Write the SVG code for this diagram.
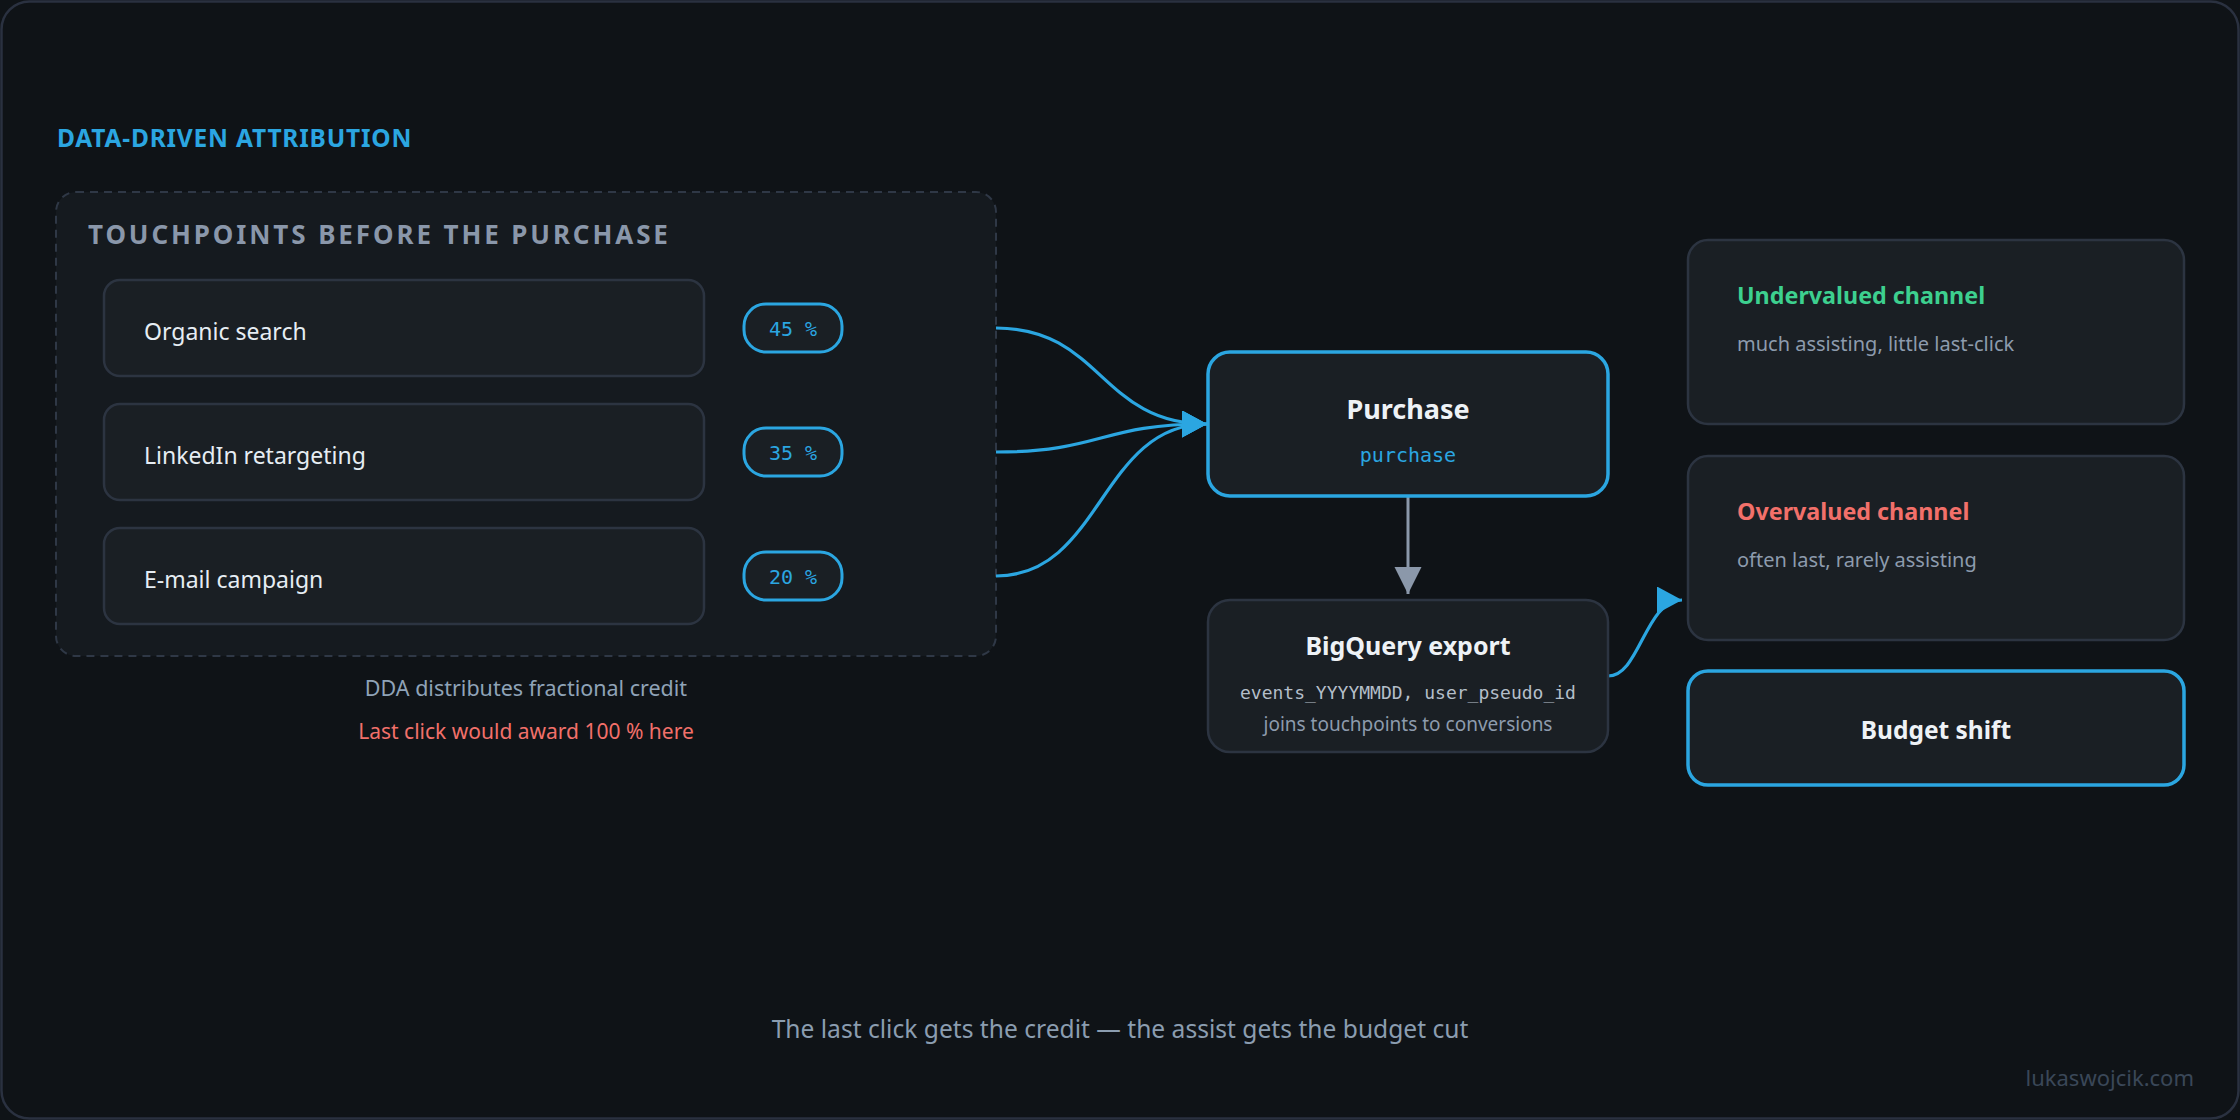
<svg xmlns="http://www.w3.org/2000/svg" width="2240" height="1120" viewBox="0 0 2240 1120">
<style>
.sans{font-family:"Noto Sans","Open Sans","DejaVu Sans",sans-serif}
.mono{font-family:"DejaVu Sans Mono","Liberation Mono",monospace}
.node{fill:#1a1f24;stroke:#2c3441;stroke-width:2.5}
.hot{fill:#1a1f24;stroke:#2ba6e1;stroke-width:3.5}
.pill{fill:#1a1f24;stroke:#2ba6e1;stroke-width:3}
.label{font-size:23px;fill:#e6edf3}
.pct{font-size:20px;fill:#2ba6e1;text-anchor:middle}
.ttl{font-weight:700;fill:#eef2f6;text-anchor:middle}
.sub{font-size:20px;fill:#8d9bad}
.flow{fill:none;stroke:#2ba6e1;stroke-width:3.2}
</style>
<defs>
<marker id="ab" markerUnits="userSpaceOnUse" viewBox="0 0 26 28" markerWidth="26" markerHeight="28" refX="25" refY="13.5" orient="auto">
<path d="M0,0 L25,13.5 L0,27 z" fill="#2ba6e1"/>
</marker>
<marker id="ag" markerUnits="userSpaceOnUse" viewBox="0 0 28 28" markerWidth="28" markerHeight="28" refX="27" refY="13.5" orient="auto">
<path d="M0,0 L27,13.5 L0,27 z" fill="#8b98aa"/>
</marker>
</defs>
<rect x="0" y="0" width="2240" height="1120" fill="#0f1317"/>
<rect x="1.5" y="1.5" width="2237" height="1117" rx="28" fill="#0f1317" stroke="#2a3140" stroke-width="2.5"/>

<text class="sans" x="57" y="147" font-size="24.5" font-weight="700" fill="#2ba6e1" letter-spacing="0.8">DATA-DRIVEN ATTRIBUTION</text>

<g id="touchpoints">
<rect x="56" y="192" width="940" height="464" rx="20" fill="#151a1f" stroke="#2f3846" stroke-width="2" stroke-dasharray="8 6"/>
<text class="sans" x="88" y="244" font-size="26" font-weight="700" fill="#8a97aa" letter-spacing="2.9">TOUCHPOINTS BEFORE THE PURCHASE</text>
</g>

<g id="node-organic">
<rect class="node" x="104" y="280" width="600" height="96" rx="16"/>
<text class="sans label" x="144" y="340">Organic search</text>
</g>
<g id="pill-45">
<rect class="pill" x="744" y="304" width="98" height="48" rx="22"/>
<text class="mono pct" x="793" y="336">45 %</text>
</g>
<g id="node-linkedin">
<rect class="node" x="104" y="404" width="600" height="96" rx="16"/>
<text class="sans label" x="144" y="464">LinkedIn retargeting</text>
</g>
<g id="pill-35">
<rect class="pill" x="744" y="428" width="98" height="48" rx="22"/>
<text class="mono pct" x="793" y="460">35 %</text>
</g>
<g id="node-email">
<rect class="node" x="104" y="528" width="600" height="96" rx="16"/>
<text class="sans label" x="144" y="588">E-mail campaign</text>
</g>
<g id="pill-20">
<rect class="pill" x="744" y="552" width="98" height="48" rx="22"/>
<text class="mono pct" x="793" y="584">20 %</text>
</g>

<text class="sans" x="526" y="696" font-size="21.5" fill="#8fa3b8" text-anchor="middle">DDA distributes fractional credit</text>
<text class="sans" x="526" y="739" font-size="21" fill="#f2706a" text-anchor="middle">Last click would award 100 % here</text>

<g id="connectors">
<path class="flow" d="M996,328 C1102,328 1100,424 1207,424" marker-end="url(#ab)"/>
<path class="flow" d="M996,452 C1102,452 1100,424 1207,424" marker-end="url(#ab)"/>
<path class="flow" d="M996,576 C1102,576 1100,424 1207,424" marker-end="url(#ab)"/>
<path d="M1408,497 L1408,594" fill="none" stroke="#8b98aa" stroke-width="3" marker-end="url(#ag)"/>
<path class="flow" d="M1608,676 C1640,676 1645,600 1682,600" marker-end="url(#ab)"/>
</g>

<g id="node-purchase">
<rect class="hot" x="1208" y="352" width="400" height="144" rx="22"/>
<text class="sans ttl" x="1408" y="419" font-size="27">Purchase</text>
<text class="mono" x="1408" y="462" font-size="20" fill="#2ba6e1" text-anchor="middle">purchase</text>
</g>

<g id="node-bigquery">
<rect class="node" x="1208" y="600" width="400" height="152" rx="22"/>
<text class="sans ttl" x="1408" y="655" font-size="25">BigQuery export</text>
<text class="mono" x="1408" y="699" font-size="18" fill="#b4bec9" text-anchor="middle">events_YYYYMMDD, user_pseudo_id</text>
<text class="sans" x="1408" y="731" font-size="19" fill="#8d9bad" text-anchor="middle">joins touchpoints to conversions</text>
</g>

<g id="node-undervalued">
<rect class="node" x="1688" y="240" width="496" height="184" rx="20"/>
<text class="sans" x="1737" y="304" font-size="23.3" font-weight="700" fill="#3dd08f">Undervalued channel</text>
<text class="sans sub" x="1737" y="351">much assisting, little last-click</text>
</g>

<g id="node-overvalued">
<rect class="node" x="1688" y="456" width="496" height="184" rx="20"/>
<text class="sans" x="1737" y="520" font-size="23.3" font-weight="700" fill="#f2706a">Overvalued channel</text>
<text class="sans sub" x="1737" y="567">often last, rarely assisting</text>
</g>

<g id="node-budget">
<rect class="hot" x="1688" y="671" width="496" height="114" rx="20"/>
<text class="sans ttl" x="1936" y="739" font-size="24.5">Budget shift</text>
</g>

<text class="sans" x="1120" y="1038" font-size="24.6" fill="#8b9db0" text-anchor="middle">The last click gets the credit — the assist gets the budget cut</text>
<text class="sans" x="2194" y="1086" font-size="22" fill="#3a4758" text-anchor="end">lukaswojcik.com</text>
</svg>
